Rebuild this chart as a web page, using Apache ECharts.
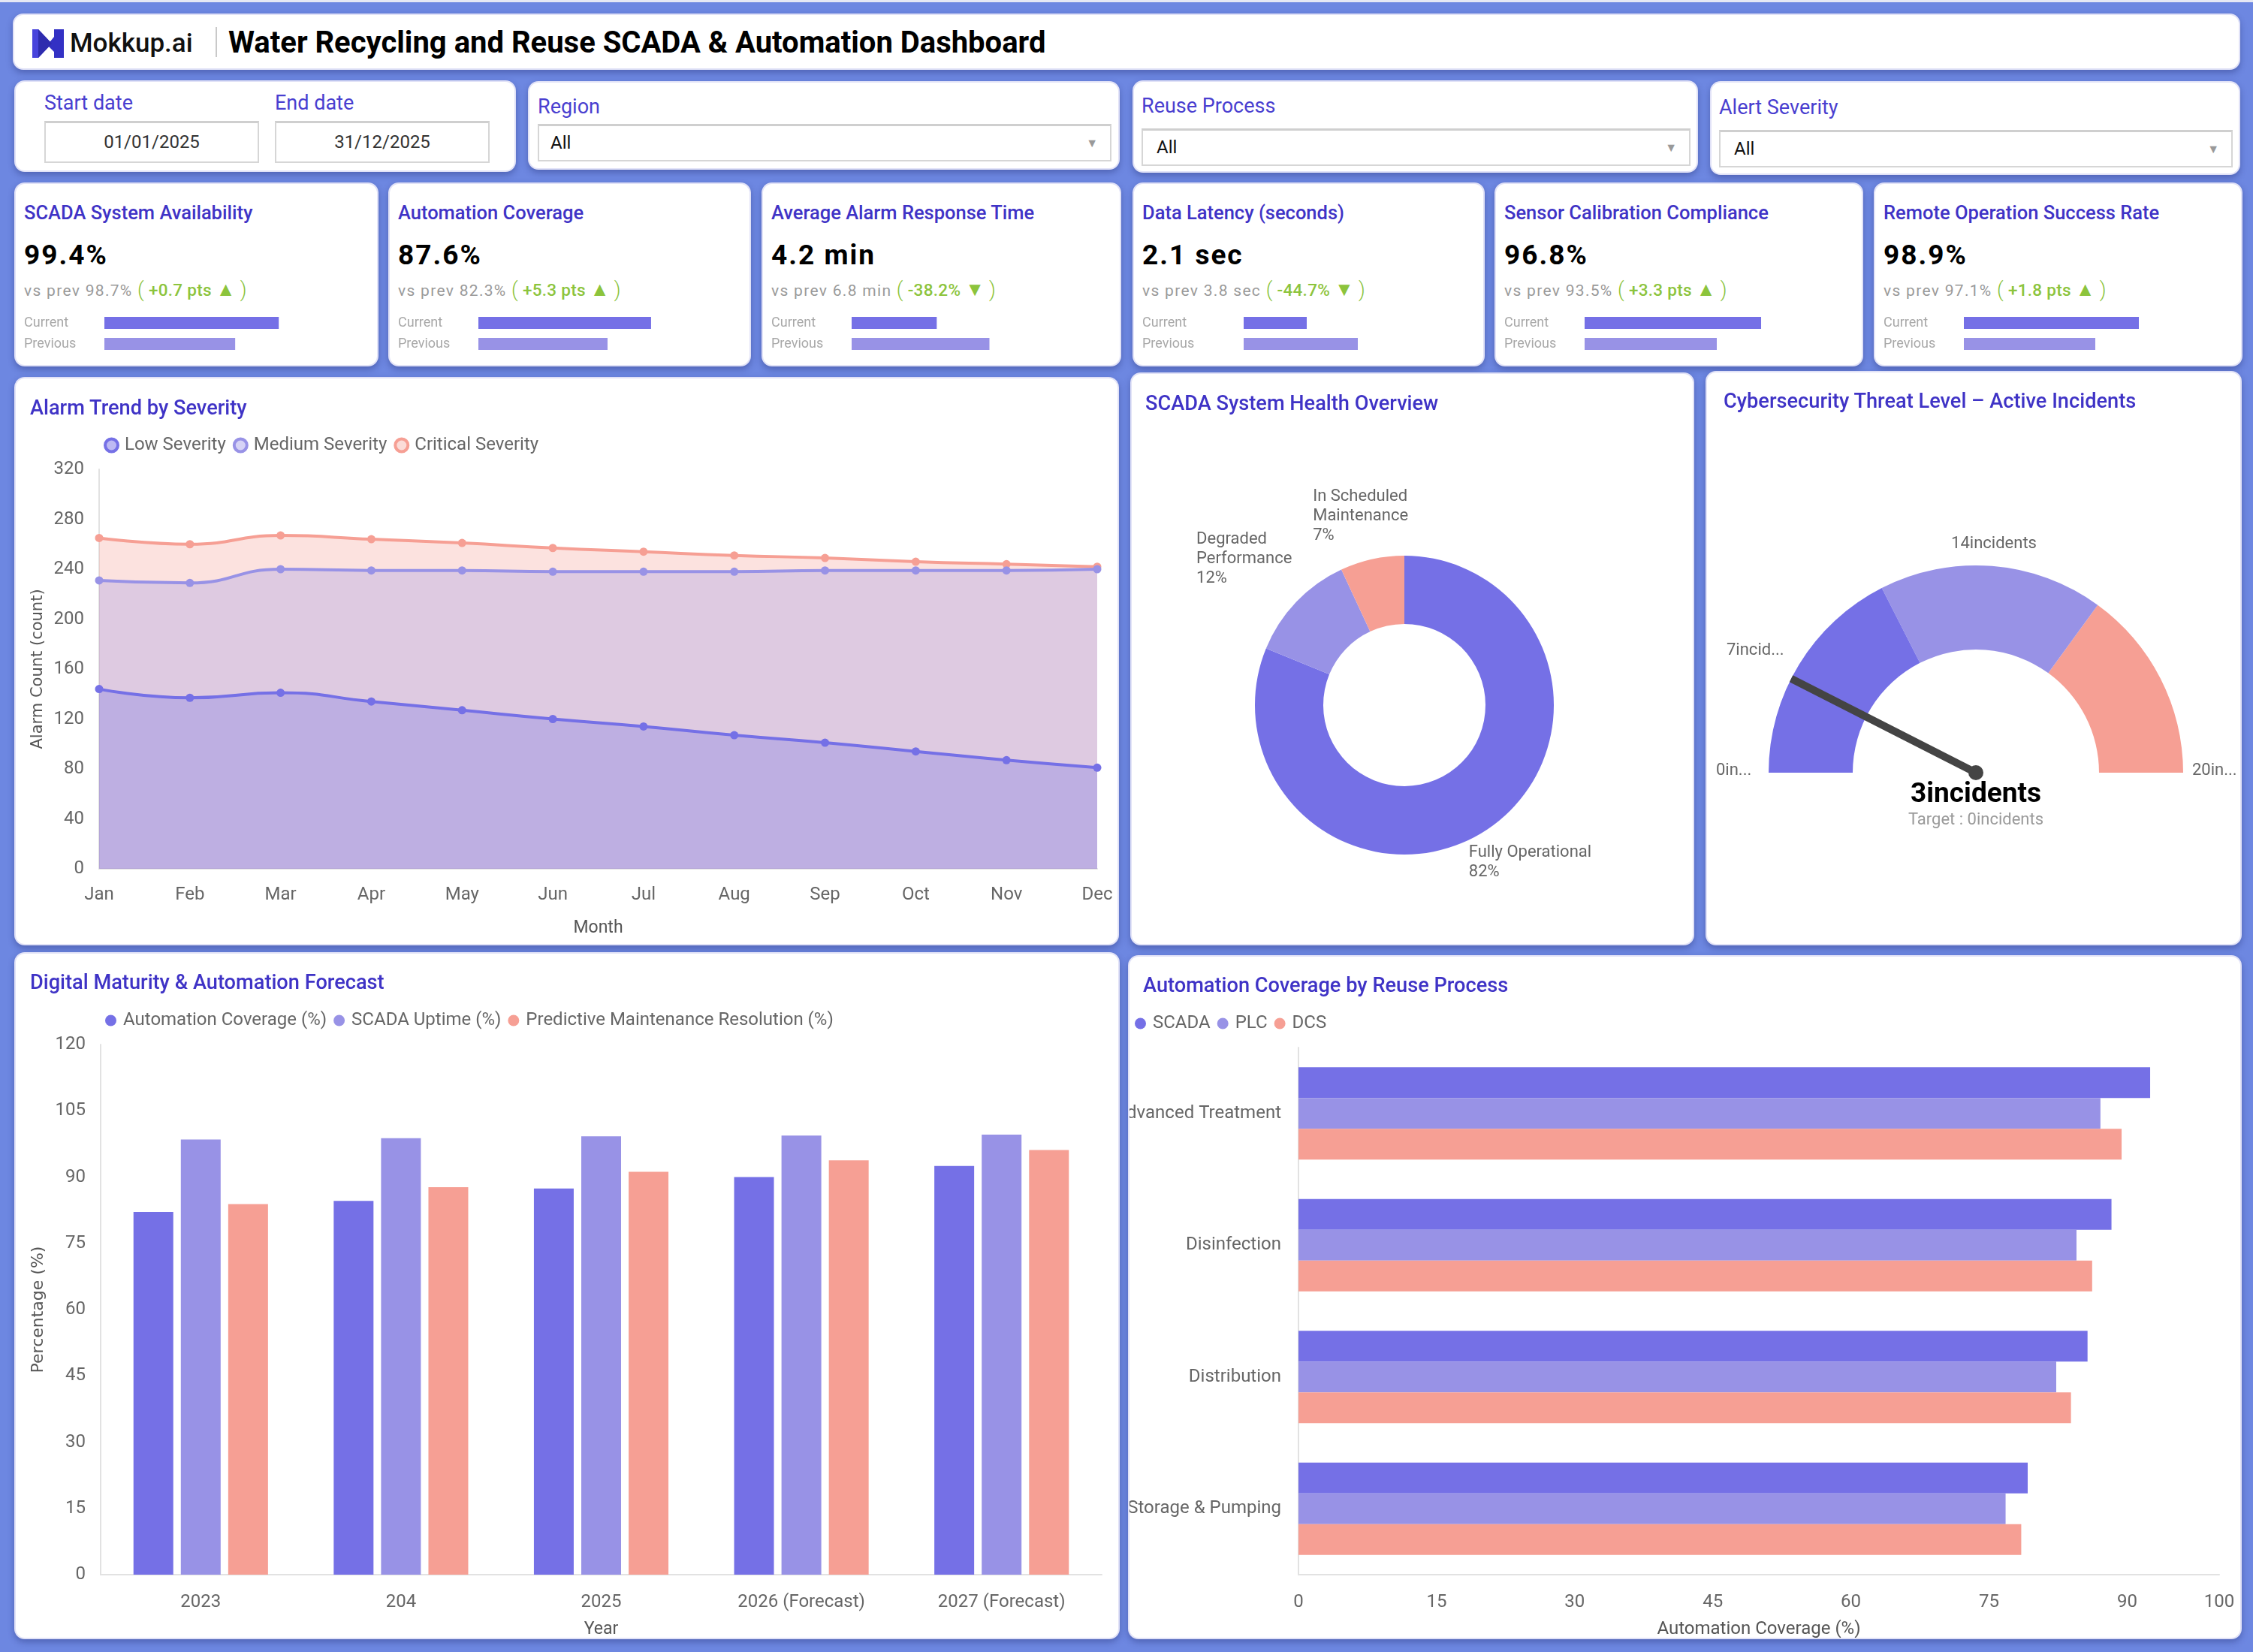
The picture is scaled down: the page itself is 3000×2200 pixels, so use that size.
<!DOCTYPE html>
<html><head><meta charset="utf-8">
<script src="https://cdn.jsdelivr.net/npm/echarts@6/dist/echarts.min.js"></script>
<style>
html,body{margin:0;padding:0;}
body{width:3000px;height:2200px;background:#6d87e1;font-family:Roboto,"Noto Sans",sans-serif;position:relative;overflow:hidden;}
.topstrip{position:absolute;left:0;top:0;width:3000px;height:3px;background:#e6e8f4;}
.card{position:absolute;background:#fff;border-radius:14px;box-sizing:border-box;border:2px solid #e1e2f7;box-shadow:0 4px 8px rgba(25,35,100,0.35);overflow:hidden;}
.ctitle{position:absolute;font-size:27.2px;font-weight:500;color:#3f33c6;white-space:nowrap;line-height:30px;}
.flabel{position:absolute;font-size:27px;color:#4a3fd0;white-space:nowrap;line-height:30px;}
.fbox{position:absolute;box-sizing:border-box;border:2px solid #d6d6d6;border-top:3px solid #cfcfcf;background:#fff;font-size:24px;color:#111;}
.chart{position:absolute;left:0;top:0;}
.kt{position:absolute;left:11px;top:23px;font-size:25.5px;font-weight:500;color:#3f33c6;white-space:nowrap;line-height:30px;}
.kv{position:absolute;left:11px;top:74px;font-size:37px;font-weight:700;color:#000;letter-spacing:2px;white-space:nowrap;line-height:42px;}
.kp{position:absolute;left:11px;top:127px;font-size:21px;color:#9a9a9a;white-space:nowrap;line-height:26px;letter-spacing:1.3px;}
.kp .dl{color:#8cc43c;font-weight:500;letter-spacing:0.3px;font-size:22.5px;}
.kp .pr{font-size:27px;font-weight:300;vertical-align:-1px;}
.kp .tri{font-size:26px;}
.mini{position:absolute;left:11px;top:170px;width:460px;height:58px;}
</style></head><body>
<div class="topstrip"></div>

<div class="card" style="left:17px;top:18px;width:2966px;height:75px;">
  <svg style="position:absolute;left:24px;top:19px" width="42" height="38" viewBox="0 0 42 38">
    <polygon points="0,0 8,0 26,19 8,38 0,38" fill="#4844dc"/>
    <polygon points="29,0 42,0 42,38 29,38 29,30 20,21 29,10" fill="#3331c4"/>
    <polygon points="8,0 26,19 8,38" fill="#2e2cae"/>
  </svg>
  <div style="position:absolute;left:74px;top:18px;font-size:35px;font-weight:500;color:#111;line-height:40px;">Mokkup.ai</div>
  <div style="position:absolute;left:268px;top:16px;width:2px;height:40px;background:#c9c9c9;"></div>
  <div style="position:absolute;left:285px;top:13px;font-size:40px;font-weight:700;color:#000;line-height:48px;white-space:nowrap;">Water Recycling and Reuse SCADA &amp; Automation Dashboard</div>
</div>

<div class="card" style="left:19px;top:107px;width:668px;height:122px;">
  <div class="flabel" style="left:38px;top:13px;">Start date</div>
  <div class="flabel" style="left:345px;top:13px;">End date</div>
  <div class="fbox" style="left:38px;top:52px;width:286px;height:56px;text-align:center;line-height:50px;color:#333;">01/01/2025</div>
  <div class="fbox" style="left:345px;top:52px;width:286px;height:56px;text-align:center;line-height:50px;color:#333;">31/12/2025</div>
</div>
<div class="card" style="left:703px;top:108px;width:788px;height:118px;">
  <div class="flabel" style="left:11px;top:17px;">Region</div>
  <div class="fbox" style="left:11px;top:55px;width:764px;height:50px;line-height:45px;padding-left:15px;">All<span style="position:absolute;right:16px;top:0;font-size:16px;color:#999;">▼</span></div>
</div>
<div class="card" style="left:1508px;top:107px;width:753px;height:123px;">
  <div class="flabel" style="left:10px;top:17px;">Reuse Process</div>
  <div class="fbox" style="left:10px;top:62px;width:731px;height:50px;line-height:45px;padding-left:18px;">All<span style="position:absolute;right:16px;top:0;font-size:16px;color:#999;">▼</span></div>
</div>
<div class="card" style="left:2277px;top:108px;width:706px;height:125px;">
  <div class="flabel" style="left:10px;top:18px;">Alert Severity</div>
  <div class="fbox" style="left:10px;top:63px;width:684px;height:50px;line-height:45px;padding-left:18px;">All<span style="position:absolute;right:16px;top:0;font-size:16px;color:#999;">▼</span></div>
</div>

<div id="kpis"></div>

<div class="card" style="left:19px;top:502px;width:1471px;height:757px;">
  <div id="c1" class="chart" style="width:1467px;height:753px;"></div>
  <div class="ctitle" style="left:19px;top:24px;">Alarm Trend by Severity</div>
</div>
<div class="card" style="left:1505px;top:496px;width:751px;height:763px;">
  <div id="c2" class="chart" style="width:747px;height:759px;"></div>
  <div class="ctitle" style="left:18px;top:24px;">SCADA System Health Overview</div>
</div>
<div class="card" style="left:2271px;top:494px;width:714px;height:765px;">
  <div id="c3" class="chart" style="width:710px;height:761px;"></div>
  <div class="ctitle" style="left:22px;top:23px;">Cybersecurity Threat Level – Active Incidents</div>
</div>
<div class="card" style="left:19px;top:1268px;width:1472px;height:915px;">
  <div id="c4" class="chart" style="width:1468px;height:911px;"></div>
  <div class="ctitle" style="left:19px;top:23px;">Digital Maturity &amp; Automation Forecast</div>
</div>
<div class="card" style="left:1502px;top:1272px;width:1483px;height:911px;">
  <div id="c5" class="chart" style="width:1479px;height:907px;"></div>
  <div class="ctitle" style="left:18px;top:23px;">Automation Coverage by Reuse Process</div>
</div>

<script>
// ---------------- DATA ----------------
const kpiTitles = ['SCADA System Availability','Automation Coverage','Average Alarm Response Time','Data Latency (seconds)','Sensor Calibration Compliance','Remote Operation Success Rate'];
const kpiCurrent = [99.4, 87.6, 4.2, 2.1, 96.8, 98.9];
const kpiPrevious = [98.7, 82.3, 6.8, 3.8, 93.5, 97.1];
const kpiUnits = ['%', '%', ' min', ' sec', '%', '%'];
const kpiDeltas = ['+0.7 pts', '+5.3 pts', '-38.2%', '-44.7%', '+3.3 pts', '+1.8 pts'];
const kpiArrows = ['▲', '▲', '▼', '▼', '▲', '▲'];
const kpiBarLabels = ['Current', 'Previous'];

const months = ['Jan','Feb','Mar','Apr','May','Jun','Jul','Aug','Sep','Oct','Nov','Dec'];
const lowSeverity = [144, 137, 141, 134, 127, 120, 114, 107, 101, 94, 87, 81];
const mediumSeverity = [231, 229, 240, 239, 239, 238, 238, 238, 239, 239, 239, 240];
const criticalSeverity = [265, 260, 267, 264, 261, 257, 254, 251, 249, 246, 244, 242];
const alarmTicks = [0, 320, 40];

const healthNames = ['Fully Operational', 'Degraded Performance', 'In Scheduled Maintenance'];
const healthValues = [82, 12, 7];

const threatValue = 3;
const threatTargetLabel = 'Target : 0incidents';
const threatRange = [0, 20];
const threatBands = [7, 14, 20];
const threatLabelValues = [0, 7, 14, 20];

const years = ['2023', '204', '2025', '2026 (Forecast)', '2027 (Forecast)'];
const automationCoverage = [82.1, 84.6, 87.4, 90.0, 92.5];
const scadaUptime = [98.5, 98.8, 99.2, 99.4, 99.6];
const predictiveMaintenance = [83.9, 87.7, 91.2, 93.8, 96.1];
const percentTicks = [0, 120, 15];

const processes = ['Advanced Treatment', 'Disinfection', 'Distribution', 'Storage & Pumping'];
const scadaCoverage = [92.5, 88.3, 85.7, 79.2];
const plcCoverage = [87.1, 84.5, 82.3, 76.8];
const dcsCoverage = [89.4, 86.2, 83.9, 78.5];
const coverageTicks = [0, 100, 15];

// ---------------- STYLE ----------------
const C1 = '#7570e6', C2 = '#9892e6', C3 = '#f69f94';
const FONT = 'Roboto';
const kpiLeft = [19, 517, 1014, 1508, 1990, 2495];
const kpiRight = [504, 1000, 1493, 1977, 2481, 2986];
const kpiAxisRange = [[96.6,100.7],[66.58,97.66],[0,12.6],[-0.7,7.8],[83.66,102.67],[91.67,102.22]];
const pieCenter = [363, 441];
const pieLabelRadius = 270;
const pieLabelNudge = [[17, -15], [-18, -8], [0, 12]];
// gauge label placement (x, y, align, max width) in chart pixels
const gaugeLabelPos = [[12, 530, 'left', 52], [26, 370, 'left', 80], [382, 228, 'center', 200], [646, 530, 'left', 64]];

// ---------------- KPI CARDS ----------------
const kwrap = document.getElementById('kpis');
kpiTitles.forEach((t, i) => {
  const d = document.createElement('div');
  d.className = 'card';
  d.style.cssText = `left:${kpiLeft[i]}px;top:243px;width:${kpiRight[i]-kpiLeft[i]}px;height:245px;`;
  d.innerHTML = `<div class="kt">${t}</div>
    <div class="kv">${kpiCurrent[i]}${kpiUnits[i]}</div>
    <div class="kp">vs prev ${kpiPrevious[i]}${kpiUnits[i]} <span class="dl"><span class="pr">(</span> ${kpiDeltas[i]} <span class="tri">${kpiArrows[i]}</span> <span class="pr">)</span></span></div>
    <div class="mini" id="mini${i}"></div>`;
  kwrap.appendChild(d);
  const ch = echarts.init(document.getElementById('mini' + i));
  ch.setOption({
    animation: false,
    grid: {left: 107, right: 13, top: 1, bottom: 1, outerBoundsMode: 'none'},
    xAxis: {type: 'value', min: kpiAxisRange[i][0], max: kpiAxisRange[i][1], show: false},
    yAxis: {type: 'category', data: kpiBarLabels, inverse: true, axisLine: {show: false}, axisTick: {show: false},
      axisLabel: {align: 'left', margin: 107, color: '#a8a8a8', fontSize: 18, fontFamily: FONT}},
    series: [{type: 'bar', barWidth: 16,
      data: [{value: kpiCurrent[i], itemStyle: {color: C1}}, {value: kpiPrevious[i], itemStyle: {color: C2}}]}]
  });
});

// ---------------- ALARM TREND ----------------
const axisTxt = {color: '#666', fontSize: 24, fontFamily: FONT};
const nameTxt = {color: '#555', fontSize: 23, fontFamily: FONT};
const legendTxt = {color: '#666', fontSize: 24, fontFamily: FONT, padding: [0, 0, 0, 4]};
const c1 = echarts.init(document.getElementById('c1'));
const lineSeries = (name, data, color, z) => ({
  name, type: 'line', data, smooth: true, symbol: 'circle', symbolSize: 11, z,
  lineStyle: {width: 4, color}, itemStyle: {color},
  areaStyle: {color, opacity: 0.3}
});
c1.setOption({
  animation: false,
  textStyle: {fontFamily: FONT},
  legend: {left: 112, top: 72, itemWidth: 17, itemHeight: 17, itemGap: 9, icon: 'circle',
    textStyle: legendTxt,
    data: [
      {name: 'Low Severity', itemStyle: {color: '#bdb9f3', borderColor: C1, borderWidth: 4}},
      {name: 'Medium Severity', itemStyle: {color: '#d6d3f6', borderColor: C2, borderWidth: 4}},
      {name: 'Critical Severity', itemStyle: {color: '#fbdcd8', borderColor: C3, borderWidth: 4}}
    ]},
  grid: {left: 111, right: 27, top: 121, bottom: 100, outerBoundsMode: 'none'},
  xAxis: {type: 'category', data: months, boundaryGap: false, name: 'Month', nameLocation: 'middle', nameGap: 68,
    nameTextStyle: nameTxt,
    axisLine: {lineStyle: {color: '#e2e2e2', width: 2}}, axisTick: {show: false},
    axisLabel: Object.assign({margin: 23}, axisTxt)},
  yAxis: {type: 'value', min: alarmTicks[0], max: alarmTicks[1], interval: alarmTicks[2],
    name: 'Alarm Count (count)', nameLocation: 'middle', nameGap: 70,
    nameTextStyle: {color: '#555', fontSize: 21, fontFamily: 'DejaVu Sans'},
    axisLine: {show: true, lineStyle: {color: '#e2e2e2', width: 2}}, axisTick: {show: false}, splitLine: {show: false},
    axisLabel: Object.assign({margin: 20}, axisTxt)},
  series: [
    lineSeries('Critical Severity', criticalSeverity, C3, 2),
    lineSeries('Medium Severity', mediumSeverity, C2, 3),
    lineSeries('Low Severity', lowSeverity, C1, 4)
  ]
});

// ---------------- HEALTH DONUT ----------------
const c2 = echarts.init(document.getElementById('c2'));
const healthTotal = healthValues.reduce((a, b) => a + b, 0);
c2.setOption({
  animation: false,
  series: [{
    type: 'pie', radius: [108, 199], center: pieCenter, startAngle: 90, clockwise: true,
    color: [C1, C2, C3],
    label: {show: true, position: 'outside', color: '#666', fontSize: 22, lineHeight: 26, fontFamily: FONT,
      formatter: p => (p.name.length > 18 ? p.name.replace(/ (?=[^ ]*$)/, '\n') : p.name) + '\n' + p.value + '%'},
    labelLine: {show: false},
    labelLayout: p => {
      const i = p.dataIndex;
      let before = 0;
      for (let k = 0; k < i; k++) before += healthValues[k];
      const mid = (before + healthValues[i] / 2) / healthTotal * Math.PI * 2;
      return {
        x: pieCenter[0] + pieLabelRadius * Math.sin(mid) - p.labelRect.width / 2 + pieLabelNudge[i][0],
        y: pieCenter[1] - pieLabelRadius * Math.cos(mid) + pieLabelNudge[i][1],
        align: 'left', verticalAlign: 'middle'
      };
    },
    data: healthNames.map((n, i) => ({name: n, value: healthValues[i]}))
  }]
});

// ---------------- THREAT GAUGE ----------------
const c3 = echarts.init(document.getElementById('c3'));
const span = threatRange[1] - threatRange[0];
c3.setOption({
  animation: false,
  graphic: threatLabelValues.map((v, i) => ({
    type: 'text', silent: true,
    style: {text: v + 'incidents', x: gaugeLabelPos[i][0], y: gaugeLabelPos[i][1], align: gaugeLabelPos[i][2],
      verticalAlign: 'middle', width: gaugeLabelPos[i][3], overflow: 'truncate', ellipsis: '...',
      fill: '#666', fontSize: 22, fontFamily: FONT}
  })),
  series: [{
    type: 'gauge', center: [358, 533], radius: 276, startAngle: 180, endAngle: 0,
    min: threatRange[0], max: threatRange[1],
    axisLine: {lineStyle: {width: 112, color: [[threatBands[0]/span, C1], [threatBands[1]/span, C2], [threatBands[2]/span, C3]]}},
    axisTick: {show: false}, splitLine: {show: false}, axisLabel: {show: false},
    pointer: {icon: 'rect', width: 10, length: '100%', offsetCenter: [0, 0], itemStyle: {color: '#444'}},
    anchor: {show: true, size: 20, showAbove: true, itemStyle: {color: '#444'}},
    detail: {formatter: '{value}incidents', offsetCenter: [0, 30], fontSize: 37, fontWeight: 'bold', color: '#000', fontFamily: FONT},
    title: {offsetCenter: [0, 63], fontSize: 22, color: '#9a9a9a', fontFamily: FONT},
    data: [{value: threatValue, name: threatTargetLabel}]
  }]
});

// ---------------- DIGITAL MATURITY ----------------
const c4 = echarts.init(document.getElementById('c4'));
const vbar = (name, data, color) => ({name, type: 'bar', data, barWidth: 53, barGap: '19%', itemStyle: {color}});
c4.setOption({
  animation: false,
  legend: {left: 114, top: 72, icon: 'circle', itemWidth: 15, itemHeight: 15, itemGap: 9, textStyle: legendTxt},
  grid: {left: 113, right: 22, top: 121, bottom: 84, outerBoundsMode: 'none'},
  xAxis: {type: 'category', data: years, name: 'Year', nameLocation: 'middle', nameGap: 62,
    nameTextStyle: nameTxt,
    axisLine: {lineStyle: {color: '#e2e2e2', width: 2}}, axisTick: {show: false},
    axisLabel: Object.assign({margin: 25}, axisTxt)},
  yAxis: {type: 'value', min: percentTicks[0], max: percentTicks[1], interval: percentTicks[2],
    name: 'Percentage (%)', nameLocation: 'middle', nameGap: 72,
    nameTextStyle: {color: '#555', fontSize: 22, fontFamily: 'DejaVu Sans'},
    axisLine: {show: true, lineStyle: {color: '#e2e2e2', width: 2}}, axisTick: {show: false}, splitLine: {show: false},
    axisLabel: Object.assign({margin: 20}, axisTxt)},
  series: [
    vbar('Automation Coverage (%)', automationCoverage, C1),
    vbar('SCADA Uptime (%)', scadaUptime, C2),
    vbar('Predictive Maintenance Resolution (%)', predictiveMaintenance, C3)
  ]
});

// ---------------- COVERAGE BY PROCESS ----------------
const c5 = echarts.init(document.getElementById('c5'));
const hbar = (name, data, color) => ({name, type: 'bar', data, barWidth: 41, barGap: '0%', itemStyle: {color}});
c5.setOption({
  animation: false,
  legend: {left: 2, top: 72, icon: 'circle', itemWidth: 15, itemHeight: 15, itemGap: 9, textStyle: legendTxt},
  grid: {left: 225, right: 28, top: 121, bottom: 84, outerBoundsMode: 'none'},
  yAxis: {type: 'category', data: processes, inverse: true,
    axisLine: {lineStyle: {color: '#e2e2e2', width: 2}}, axisTick: {show: false},
    axisLabel: Object.assign({margin: 23}, axisTxt)},
  xAxis: {type: 'value', min: coverageTicks[0], max: coverageTicks[1], interval: coverageTicks[2],
    name: 'Automation Coverage (%)', nameLocation: 'middle', nameGap: 61,
    nameTextStyle: {color: '#555', fontSize: 24, fontFamily: FONT},
    axisLine: {show: true, lineStyle: {color: '#e2e2e2', width: 2}}, axisTick: {show: false}, splitLine: {show: false},
    axisLabel: Object.assign({margin: 25}, axisTxt)},
  series: [
    hbar('SCADA', scadaCoverage, C1),
    hbar('PLC', plcCoverage, C2),
    hbar('DCS', dcsCoverage, C3)
  ]
});
</script>
</body></html>
